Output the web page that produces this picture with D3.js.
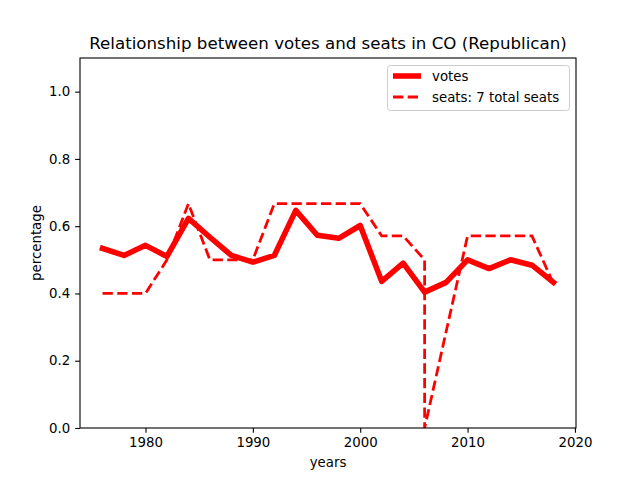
<!DOCTYPE html>
<html>
<head>
<meta charset="utf-8">
<script src="https://cdn.jsdelivr.net/npm/d3@7"></script>
<style>
  body { margin: 0; background: #fff; }
  svg text { font-family: "DejaVu Sans", sans-serif; fill: #000; }
</style>
</head>
<body>
<svg id="chart" width="640" height="480"></svg>
<script>
// votes series (every election year)
var voteYears = [1976, 1978, 1980, 1982, 1984, 1986, 1988, 1990, 1992, 1994, 1996,
                 1998, 2000, 2002, 2004, 2006, 2008, 2010, 2012, 2014, 2016, 2018];
var votes = [0.534, 0.513, 0.543, 0.51, 0.623, 0.567, 0.513, 0.493, 0.513, 0.647, 0.573,
             0.564, 0.602, 0.436, 0.49, 0.404, 0.433, 0.50, 0.474, 0.50, 0.484, 0.433];

// seats series (2006 shows up twice in the source)
var seatYears = [1976, 1978, 1980, 1982, 1984, 1986, 1988, 1990, 1992, 1994, 1996, 1998,
                 2000, 2002, 2004, 2006, 2006, 2008, 2010, 2012, 2014, 2016, 2018];
var seats = [0.4, 0.4, 0.4, 0.5, 0.667, 0.5, 0.5, 0.5, 0.667, 0.667, 0.667, 0.667,
             0.667, 0.571, 0.571, 0.5, 0, 0.286, 0.571, 0.571, 0.571, 0.571, 0.429];

var xTicks = [1980, 1990, 2000, 2010, 2020];
var yTicks = [0, 0.2, 0.4, 0.6, 0.8, 1.0];

var svg = d3.select("#chart");
var pLeft = 80, pRight = 576, pTop = 58, pBottom = 428;

var x = d3.scaleLinear().domain([1973.9, 2020.1]).range([pLeft, pRight]);
var y = d3.scaleLinear().domain([0, 1.1]).range([pBottom, pTop]);

var plot = svg.append("g");
plot.append("clipPath").attr("id", "clip")
  .append("rect").attr("x", pLeft).attr("y", pTop)
  .attr("width", pRight - pLeft).attr("height", pBottom - pTop);

var line = d3.line().x(d => x(d[0])).y(d => y(d[1]));

plot.append("path")
  .datum(voteYears.map((yr, i) => [yr, votes[i]]))
  .attr("d", line)
  .attr("clip-path", "url(#clip)")
  .attr("fill", "none")
  .attr("stroke", "#ff0000")
  .attr("stroke-width", 5.56)
  .attr("stroke-linejoin", "round")
  .attr("stroke-linecap", "square");

plot.append("path")
  .datum(seatYears.map((yr, i) => [yr, seats[i]]))
  .attr("d", line)
  .attr("clip-path", "url(#clip)")
  .attr("fill", "none")
  .attr("stroke", "#ff0000")
  .attr("stroke-width", 2.78)
  .attr("stroke-dasharray", "10.3,4.4");

// axes
var xAxis = svg.append("g")
  .attr("transform", "translate(0," + pBottom + ")")
  .call(d3.axisBottom(x).tickValues(xTicks).tickFormat(d3.format("d")).tickSizeOuter(0).tickSize(4.86).tickPadding(4.9));
var yAxis = svg.append("g")
  .attr("transform", "translate(" + pLeft + ",0)")
  .call(d3.axisLeft(y).tickValues(yTicks).tickFormat(d3.format(".1f")).tickSizeOuter(0).tickSize(4.86).tickPadding(4.9));

[xAxis, yAxis].forEach(function(a) {
  a.select(".domain").remove();
  a.selectAll("line").attr("stroke", "#000").attr("stroke-width", 1.1);
  a.selectAll("text").style("font-family", "DejaVu Sans").style("font-size", "13.33px");
});

// frame
svg.append("rect")
  .attr("x", pLeft).attr("y", pTop)
  .attr("width", pRight - pLeft).attr("height", pBottom - pTop)
  .attr("fill", "none").attr("stroke", "#000").attr("stroke-width", 1.1);

// title and labels
svg.append("text")
  .attr("x", (pLeft + pRight) / 2).attr("y", 49)
  .attr("text-anchor", "middle")
  .style("font-size", "16.67px")
  .text("Relationship between votes and seats in CO (Republican)");

svg.append("text")
  .attr("x", (pLeft + pRight) / 2).attr("y", 467)
  .attr("text-anchor", "middle")
  .style("font-size", "13.33px")
  .text("years");

svg.append("text")
  .attr("transform", "translate(41," + (pTop + pBottom) / 2 + ") rotate(-90)")
  .attr("text-anchor", "middle")
  .style("font-size", "13.33px")
  .text("percentage");

// legend
var legend = svg.append("g");
legend.append("rect")
  .attr("x", 387.5).attr("y", 65.5).attr("width", 182).attr("height", 45)
  .attr("rx", 3)
  .attr("fill", "#fff").attr("fill-opacity", 0.8)
  .attr("stroke", "#ccc").attr("stroke-width", 1);

var legendItems = [
  { label: "votes", width: 5.56, dash: null },
  { label: "seats: 7 total seats", width: 2.78, dash: "10.3,4.4" }
];
legendItems.forEach(function(item, i) {
  var ly = 76 + i * 21;
  legend.append("line")
    .attr("x1", 393).attr("x2", 421).attr("y1", ly).attr("y2", ly)
    .attr("stroke", "#ff0000").attr("stroke-width", item.width)
    .attr("stroke-dasharray", item.dash);
  legend.append("text")
    .attr("x", 432).attr("y", ly + 4.7)
    .style("font-size", "13.33px")
    .text(item.label);
});
</script>
</body>
</html>
